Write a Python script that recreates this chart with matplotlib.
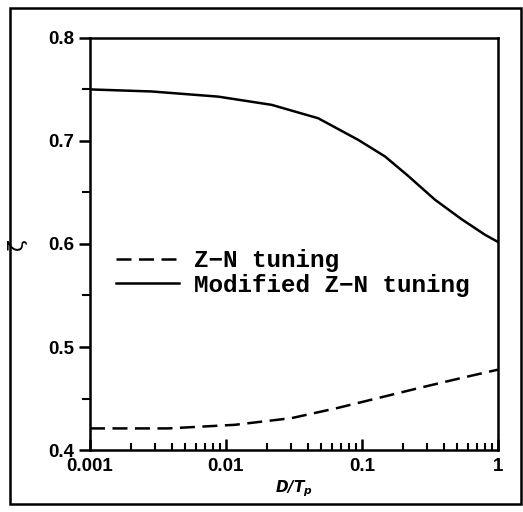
import matplotlib
matplotlib.use("Agg")
import matplotlib.pyplot as plt
from matplotlib.patches import Rectangle
from matplotlib.ticker import LogLocator, FixedLocator, NullFormatter
import numpy as np

# values (D/Tp on log axis)
modified_x = [0.001, 0.00284, 0.00877, 0.0217, 0.0477, 0.094, 0.1476, 0.219,
              0.344, 0.541, 0.802, 1.0]
modified_zeta = [0.750, 0.748, 0.743, 0.735, 0.722, 0.701, 0.685, 0.666,
                 0.643, 0.624, 0.609, 0.602]

zn_x = [0.001, 0.00377, 0.01165, 0.0304, 0.067, 0.132, 0.259, 0.541, 1.0]
zn_zeta = [0.421, 0.421, 0.4245, 0.431, 0.441, 0.4505, 0.460, 0.470, 0.478]

y_ticks = [0.4, 0.5, 0.6, 0.7, 0.8]
y_tick_labels = ["0.4", "0.5", "0.6", "0.7", "0.8"]
x_ticks = [0.001, 0.01, 0.1, 1]
x_tick_labels = ["0.001", "0.01", "0.1", "1"]

fig = plt.figure(figsize=(5.23, 5.12), dpi=100)
ax = fig.add_axes([0.172, 0.121, 0.780, 0.805])

ax.plot(zn_x, zn_zeta, color="black", linewidth=1.8, dashes=(6, 3),
        label="Z\u2212N tuning")
ax.plot(modified_x, modified_zeta, color="black", linewidth=1.8,
        label="Modified Z\u2212N tuning")

ax.set_xscale("log")
ax.set_xlim(0.001, 1)
ax.set_ylim(0.4, 0.8)

ax.xaxis.set_major_locator(FixedLocator(x_ticks))
ax.set_xticklabels(x_tick_labels)
ax.xaxis.set_minor_locator(LogLocator(base=10, subs=np.arange(2, 10)))
ax.xaxis.set_minor_formatter(NullFormatter())
ax.set_yticks(y_ticks)
ax.set_yticklabels(y_tick_labels)
ax.yaxis.set_minor_locator(FixedLocator([0.45, 0.55, 0.65, 0.75]))

ax.tick_params(axis="x", which="major", direction="in", length=8, width=1.8,
               labelsize=13.5, pad=6)
ax.tick_params(axis="x", which="minor", direction="in", length=5, width=1.5)
ax.tick_params(axis="y", which="major", direction="out", length=8, width=1.8,
               labelsize=13.5, pad=3)
ax.tick_params(axis="y", which="minor", direction="out", length=6, width=1.5)
for lab in ax.get_xticklabels() + ax.get_yticklabels():
    lab.set_fontfamily("Liberation Sans")
    lab.set_fontweight("bold")

for sp in ax.spines.values():
    sp.set_linewidth(1.8)

ax.set_xlabel(r"$\mathbfit{D/T_p}$", fontsize=11, labelpad=2)
ax.set_ylabel("\u03b6", fontsize=16, rotation=90, labelpad=-2)
ax.yaxis.set_label_coords(-0.155, 0.5)

leg = ax.legend(loc="upper left", bbox_to_anchor=(0.01, 0.54), frameon=False,
                handlelength=2.6, handletextpad=0.6, labelspacing=0.05,
                prop={"family": "Liberation Mono", "weight": "bold", "size": 17.5})

# outer frame around the whole figure
fig.patches.append(Rectangle((0.019, 0.016), 0.977, 0.969, transform=fig.transFigure,
                             fill=False, edgecolor="black", linewidth=1.8))

fig.savefig("out.png", dpi=100)
